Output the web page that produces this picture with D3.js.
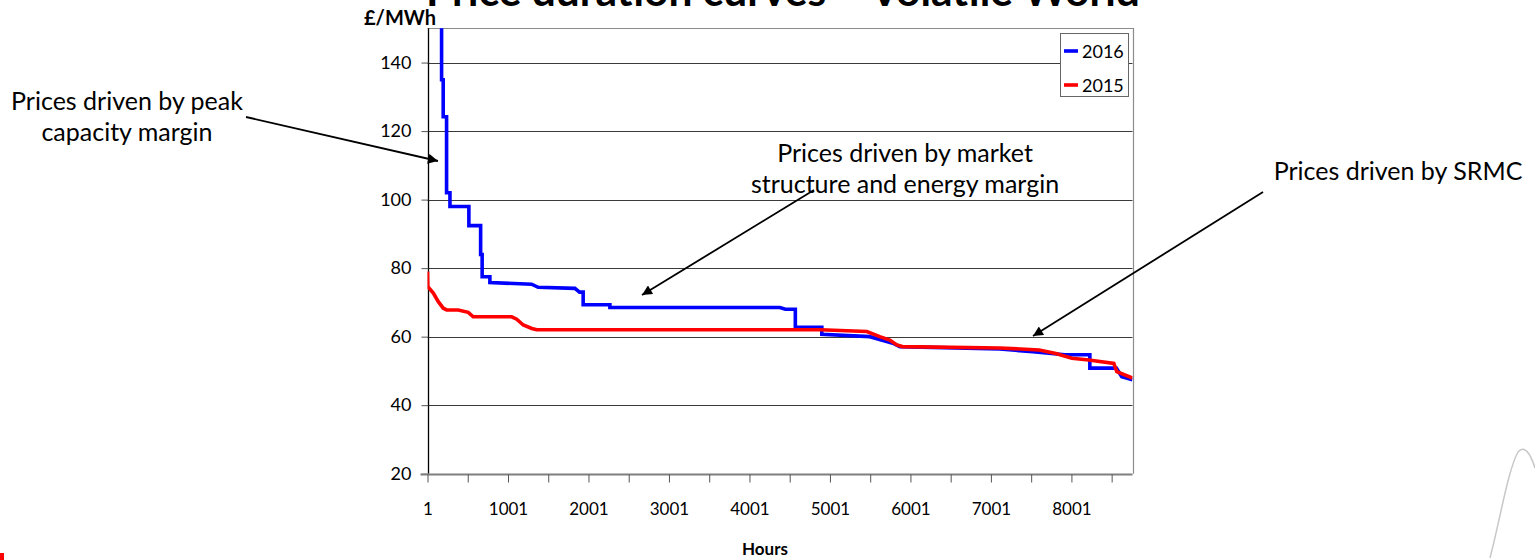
<!DOCTYPE html>
<html>
<head>
<meta charset="utf-8">
<script src="https://cdn.jsdelivr.net/npm/d3@7"></script>
<style>
  html, body { margin: 0; padding: 0; background: #ffffff; }
  svg { display: block; font-family: "Lato", "Open Sans", sans-serif; }
</style>
</head>
<body>
<svg id="chart" width="1535" height="560"></svg>
<script>
// ---------------- data ----------------
const titleText = "Price duration curves – Volatile World";
const yAxisLabel = "£/MWh";
const xAxisLabel = "Hours";
const seriesNames = ["2016", "2015"];
const seriesColors = ["#0000ff", "#ff0000"];

const yTicks = [20, 40, 60, 80, 100, 120, 140];
const xTickHours = [1, 501, 1001, 1501, 2001, 2501, 3001, 3501, 4001, 4501, 5001, 5501, 6001, 6501, 7001, 7501, 8001, 8501];
const xLabelHours = [1, 1001, 2001, 3001, 4001, 5001, 6001, 7001, 8001];

// 2016 price duration curve (hour rank, £/MWh); values above 150 run off the top
const hours2016 = [1, 150, 176, 176, 196, 196, 238, 238, 280, 280, 515, 515, 661, 661, 680, 680, 776, 776, 1294, 1376, 1832, 1890, 1935, 1935, 2267, 2267, 4379, 4447, 4571, 4571, 4900, 4900, 5496, 5782, 5869, 7112, 7522, 7919, 8230, 8230, 8560, 8626, 8760];
const price2016 = [220, 170, 160, 135, 135, 124.2, 124.2, 102, 102, 98, 98, 92.4, 92.4, 84, 84, 77.5, 77.5, 75.8, 75.3, 74.4, 74.1, 73.0, 73.0, 69.3, 69.3, 68.5, 68.5, 68.0, 68.0, 62.7, 62.7, 60.7, 60.0, 58.1, 57.1, 56.4, 55.6, 54.7, 54.7, 50.8, 50.8, 48.3, 47.4];

// 2015 price duration curve
const hours2015 = [1, 5, 73, 135, 197, 239, 383, 507, 569, 1047, 1109, 1191, 1296, 1358, 4880, 5460, 5620, 5745, 5832, 5900, 7112, 7600, 7808, 8007, 8218, 8528, 8565, 8760];
const price2015 = [79, 74.6, 72.7, 70.2, 68.3, 67.8, 67.8, 67.1, 65.8, 65.8, 65.1, 63.4, 62.4, 62.0, 62.0, 61.5, 60.0, 59.0, 57.6, 57.1, 56.7, 56.1, 55.1, 53.7, 53.2, 52.2, 49.8, 47.9];

const annotationTexts = [
  ["Prices driven by peak", "capacity margin"],
  ["Prices driven by market", "structure and energy margin"],
  ["Prices driven by SRMC"]
];

// ---------------- layout ----------------
const svg = d3.select("#chart");
const plot = { left: 427.5, right: 1132.5, top: 28.3, bottom: 473.7 };

const x = d3.scaleLinear().domain([1, 8760]).range([plot.left, plot.right]);
const y = d3.scaleLinear().domain([20, 150]).range([plot.bottom, plot.top]);

svg.append("rect").attr("width", 1535).attr("height", 560).attr("fill", "#fff");

// defs
const defs = svg.append("defs");
defs.append("clipPath").attr("id", "plotclip")
  .append("rect")
  .attr("x", plot.left).attr("y", plot.top)
  .attr("width", plot.right - plot.left).attr("height", plot.bottom - plot.top);
defs.append("marker").attr("id", "arrowhead")
  .attr("viewBox", "0 0 10 10").attr("refX", 10).attr("refY", 5)
  .attr("markerWidth", 13).attr("markerHeight", 10).attr("markerUnits", "userSpaceOnUse")
  .attr("orient", "auto")
  .append("path").attr("d", "M0,0 L10,5 L0,10 Z").attr("fill", "#000");

// gridlines
svg.append("g").selectAll("line")
  .data(yTicks.filter(d => d > 20))
  .join("line")
  .attr("x1", plot.left).attr("x2", plot.right)
  .attr("y1", d => Math.round(y(d)) + 0.5).attr("y2", d => Math.round(y(d)) + 0.5)
  .attr("stroke", "#3a3a3a").attr("stroke-width", 1);

// plot border (top / right)
svg.append("path")
  .attr("d", `M${plot.left},${Math.round(plot.top)+0.5} H${Math.round(plot.right)+0.5} V${plot.bottom}`)
  .attr("fill", "none").attr("stroke", "#8c8c8c").attr("stroke-width", 1.2);

// y axis
const yAxis = svg.append("g")
  .attr("transform", `translate(${Math.round(plot.left)+0.5},0)`)
  .call(d3.axisLeft(y).tickValues(yTicks).tickSize(7).tickPadding(10).tickFormat(d3.format("d")));
yAxis.select(".domain").attr("stroke", "#000").attr("stroke-width", 1.3)
  .attr("d", `M0,${plot.top}V${plot.bottom}`);
yAxis.selectAll(".tick line").attr("stroke", "#555");
yAxis.selectAll(".tick text").attr("font-size", 18).attr("fill", "#000").attr("font-family", "Lato");

// x axis
const xAxis = svg.append("g")
  .attr("transform", `translate(0,${Math.round(plot.bottom)+0.5})`)
  .call(d3.axisBottom(x).tickValues(xTickHours).tickSize(8).tickPadding(20)
    .tickFormat(d => xLabelHours.includes(d) ? String(d) : ""));
xAxis.select(".domain").attr("stroke", "#7f7f7f").attr("stroke-width", 2)
  .attr("d", `M${plot.left - 7},0H${plot.right}`);
xAxis.selectAll(".tick line").attr("stroke", "#555");
xAxis.selectAll(".tick text").attr("font-size", 17).attr("fill", "#000").attr("font-family", "Lato");

// series
const line = d3.line().x(d => x(d[0])).y(d => y(d[1]));
const series = [
  { name: seriesNames[0], color: seriesColors[0], pts: d3.zip(hours2016, price2016) },
  { name: seriesNames[1], color: seriesColors[1], pts: d3.zip(hours2015, price2015) }
];
svg.append("g").attr("clip-path", "url(#plotclip)")
  .selectAll("path")
  .data(series)
  .join("path")
  .attr("d", d => line(d.pts))
  .attr("fill", "none")
  .attr("stroke", d => d.color)
  .attr("stroke-width", 3.6)
  .attr("stroke-linejoin", "miter");

// legend
const lg = svg.append("g");
lg.append("rect").attr("x", 1060.5).attr("y", 33.5).attr("width", 68).attr("height", 63)
  .attr("fill", "#fff").attr("stroke", "#666").attr("stroke-width", 1);
series.forEach((s, i) => {
  const ly = 51 + i * 34;
  lg.append("line").attr("x1", 1064).attr("x2", 1078).attr("y1", ly).attr("y2", ly)
    .attr("stroke", s.color).attr("stroke-width", 3.6);
  lg.append("text").attr("x", 1082).attr("y", ly + 7).attr("font-size", 18)
    .attr("fill", "#000").text(s.name);
});

// titles
svg.append("text").attr("x", 783).attr("y", 6).attr("text-anchor", "middle")
  .attr("font-size", 42.5).attr("font-weight", "bold").attr("fill", "#000").text(titleText);
svg.append("text").attr("x", 400).attr("y", 25).attr("text-anchor", "middle")
  .attr("font-size", 20).attr("font-weight", "bold").attr("fill", "#000").text(yAxisLabel);
svg.append("text").attr("x", 765).attr("y", 555).attr("text-anchor", "middle")
  .attr("font-size", 17).attr("font-weight", "bold").attr("fill", "#000").text(xAxisLabel);

// annotations
const ann = [
  { cx: 127, y0: 110, lines: annotationTexts[0], from: [246, 117], to: [438, 161] },
  { cx: 905, y0: 162, lines: annotationTexts[1], from: [814, 190], to: [642, 295] },
  { cx: 1398, y0: 180, lines: annotationTexts[2], from: [1263, 192], to: [1033, 336] }
];
ann.forEach(a => {
  const t = svg.append("text").attr("text-anchor", "middle").attr("font-size", 25).attr("fill", "#000");
  a.lines.forEach((l, i) => t.append("tspan").attr("x", a.cx).attr("y", a.y0 + i * 31).text(l));
  svg.append("line").attr("x1", a.from[0]).attr("y1", a.from[1]).attr("x2", a.to[0]).attr("y2", a.to[1])
    .attr("stroke", "#000").attr("stroke-width", 1.8).attr("marker-end", "url(#arrowhead)");
});

// slide decorations
svg.append("rect").attr("x", 0).attr("y", 553).attr("width", 4).attr("height", 7).attr("fill", "#ff0000");
svg.append("path").attr("d", "M1490,558 C1500,520 1508,470 1518,452 C1524,445 1530,452 1535,468")
  .attr("fill", "none").attr("stroke", "#c8c8c8").attr("stroke-width", 1.5);
</script>
</body>
</html>
